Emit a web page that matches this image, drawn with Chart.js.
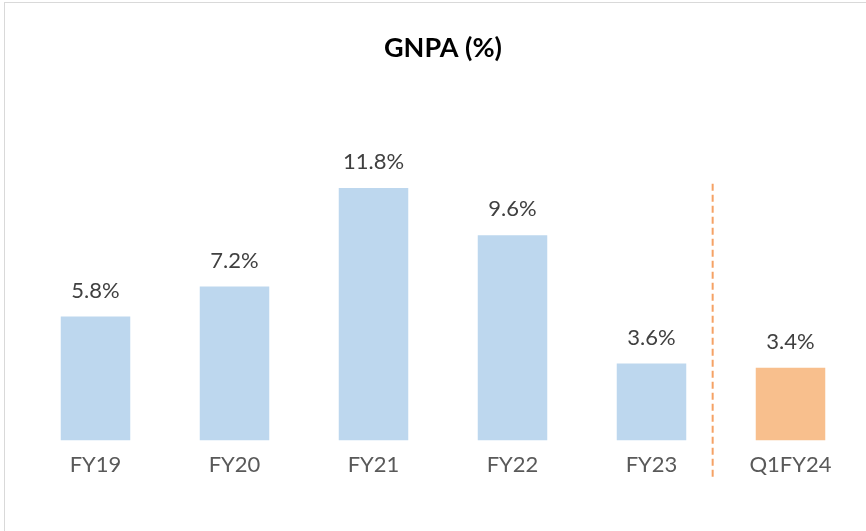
<!DOCTYPE html>
<html>
<head>
<meta charset="utf-8">
<script src="https://cdn.jsdelivr.net/npm/chart.js@4"></script>
<style>
  body { margin: 0; background: #fff; }
  .frame { position: absolute; left: 4px; top: 2px; width: 900px; height: 600px; border: 1px solid #d9d9d9; }
  .wrap { position: absolute; left: 0; top: 0; width: 866px; height: 531px; }
</style>
</head>
<body>
<div class="frame"></div>
<div class="wrap"><canvas id="gnpa"></canvas></div>
<script>
// data
const periods = ["FY19", "FY20", "FY21", "FY22", "FY23", "Q1FY24"];
const gnpaValues = [5.8, 7.2, 11.8, 9.6, 3.6, 3.4];
const barColors = ["#BDD7EE", "#BDD7EE", "#BDD7EE", "#BDD7EE", "#BDD7EE", "#F8BF8D"];
const dividerAfter = 4; // dashed line between FY23 and Q1FY24

/* -----------------------
value labels above bars
-------------------------- */
const valueLabels = {
  id: "valueLabels",
  afterDatasetsDraw(chart) {
    const ctx = chart.ctx;
    const meta = chart.getDatasetMeta(0);
    ctx.save();
    ctx.font = "22px Lato";
    ctx.fillStyle = "#404040";
    ctx.textAlign = "center";
    ctx.textBaseline = "middle";
    meta.data.forEach(function (bar, i) {
      ctx.fillText(gnpaValues[i].toFixed(1) + "%", bar.x, bar.y - 26);
    });
    ctx.restore();
  }
};

/* -----------------------
dashed divider
-------------------------- */
const divider = {
  id: "divider",
  afterDatasetsDraw(chart) {
    const x = chart.scales.x;
    const y = chart.scales.y;
    const a = x.getPixelForValue(dividerAfter);
    const b = x.getPixelForValue(dividerAfter + 1);
    const px = a + (b - a) * 0.44;
    const ctx = chart.ctx;
    ctx.save();
    ctx.strokeStyle = "#F5A265";
    ctx.lineWidth = 2;
    ctx.setLineDash([7, 4]);
    ctx.beginPath();
    ctx.moveTo(px, y.getPixelForValue(12));
    ctx.lineTo(px, chart.chartArea.bottom + 38);
    ctx.stroke();
    ctx.restore();
  }
};

new Chart(document.getElementById("gnpa"), {
  type: "bar",
  data: {
    labels: periods,
    datasets: [{
      data: gnpaValues,
      backgroundColor: barColors,
      categoryPercentage: 1,
      barPercentage: 0.5
    }]
  },
  options: {
    responsive: true,
    maintainAspectRatio: false,
    animation: false,
    layout: { padding: { left: 26, right: 6, bottom: 50 } },
    plugins: {
      legend: { display: false },
      tooltip: { enabled: false },
      title: {
        display: true,
        text: "GNPA (%)",
        color: "#000",
        font: { family: "Lato", size: 27, weight: "bold" },
        padding: { top: 32, bottom: 6 }
      }
    },
    scales: {
      y: { display: false, min: 0, max: 17.3 },
      x: {
        grid: { display: false },
        border: { display: false },
        ticks: { color: "#595959", font: { family: "Lato", size: 22 }, padding: 3 }
      }
    }
  },
  plugins: [valueLabels, divider]
});
</script>
</body>
</html>
